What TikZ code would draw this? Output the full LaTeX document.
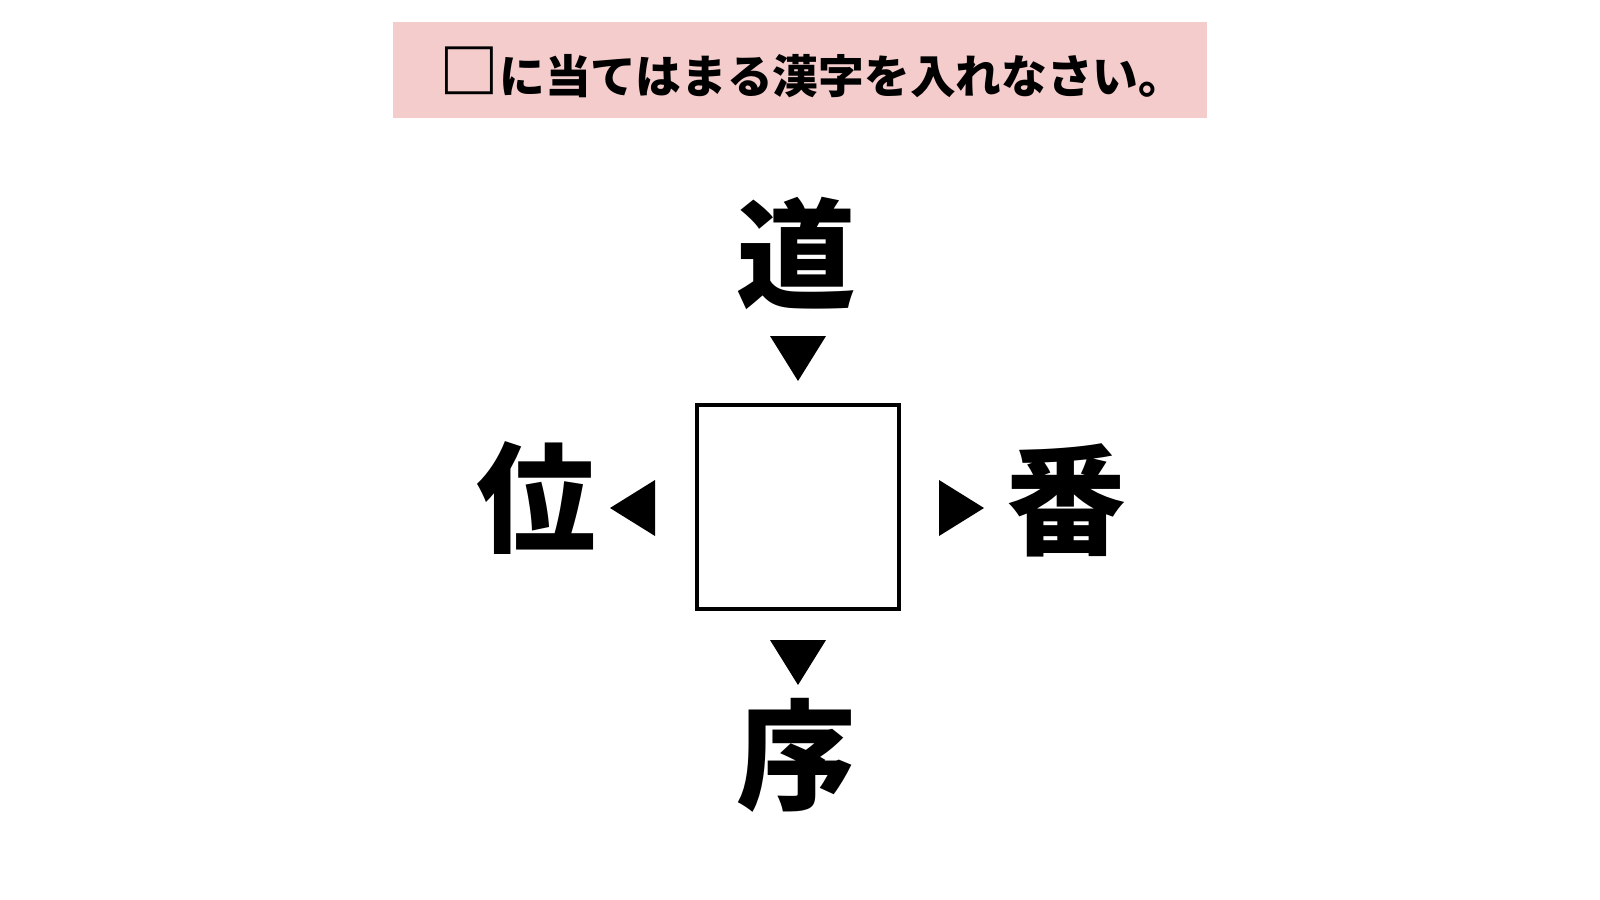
\documentclass[tikz,border=0pt]{standalone}
\usepackage{fontspec}
\newfontfamily\cjk{Noto Sans CJK JP}[BoldFont={Noto Sans CJK JP Black}]
\begin{document}
\begin{tikzpicture}[x=0.01cm,y=-0.01cm,
  big/.style={font=\cjk\bfseries\fontsize{34}{34}\selectfont,inner sep=0pt},
  tri/.style={fill=black}]
\useasboundingbox (0,0) rectangle (1600,900);
\fill[fill={rgb,255:red,244;green,204;blue,204}] (393,22) rectangle (1207,118);
\node[font=\cjk\bfseries\fontsize{13}{14}\selectfont] (title) at (812,72) {{\fontsize{17}{17}\selectfont □}に当てはまる漢字を入れなさい。};
\node[draw,line width=1.3pt,minimum width=2.02cm,minimum height=2.04cm,inner sep=0pt] (box) at (798,507) {};
\node[big] (top) at (796,253) {道};
\node[big] (left) at (536,498) {位};
\node[big] (right) at (1066,500) {番};
\node[big] (bot) at (796,755) {序};
\fill[tri] (770,336) -- (826,336) -- (798,381) -- cycle;
\fill[tri] (770,640) -- (826,640) -- (798,685) -- cycle;
\fill[tri] (655,480) -- (655,536) -- (610,508) -- cycle;
\fill[tri] (939,480) -- (939,536) -- (984,508) -- cycle;
\end{tikzpicture}
\end{document}
